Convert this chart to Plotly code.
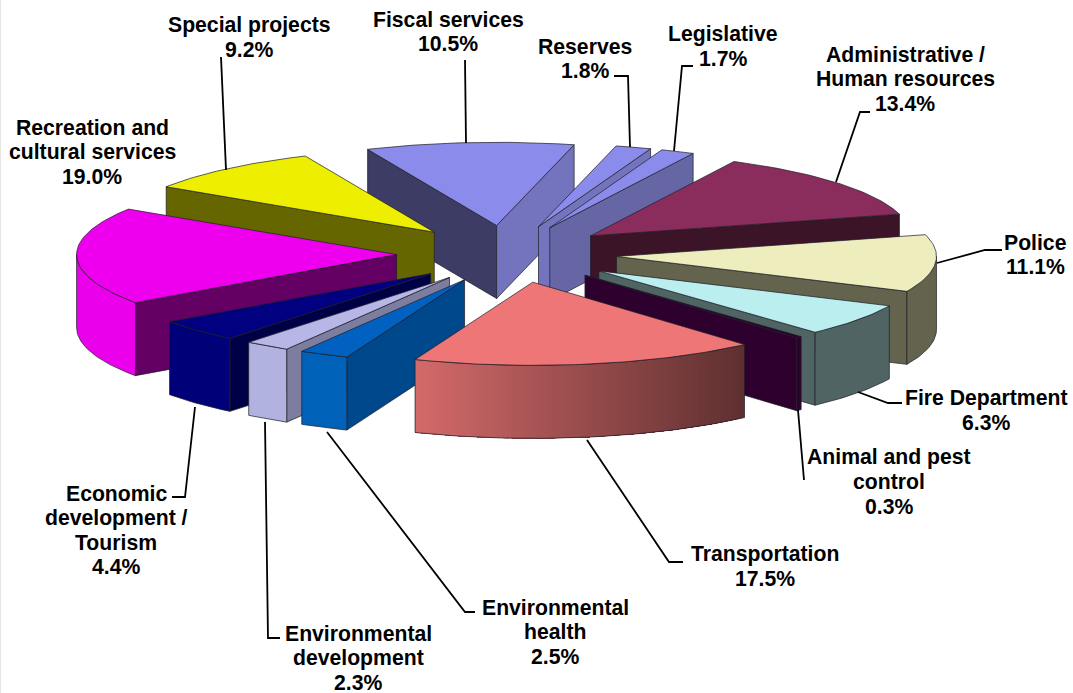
import math
import plotly.graph_objects as go

# ---- data (clockwise from the start angle) ----
categories = ["Legislative", "Administrative / Human resources", "Police", "Fire Department",
              "Animal and pest control", "Transportation", "Environmental health",
              "Environmental development", "Economic development / Tourism",
              "Recreation and cultural services", "Special projects", "Fiscal services", "Reserves"]
values = [1.7, 13.4, 11.1, 6.3, 0.3, 17.5, 2.5, 2.3, 4.4, 19.0, 9.2, 10.5, 1.8]

label_lines = [["Legislative"], ["Administrative /", "Human resources"], ["Police"], ["Fire Department"],
               ["Animal and pest", "control"], ["Transportation"], ["Environmental", "health"],
               ["Environmental", "development"], ["Economic", "development /", "Tourism"],
               ["Recreation and", "cultural services"], ["Special projects"], ["Fiscal services"], ["Reserves"]]

# ---- styles ----
top_colors = ["#8b8bec", "#8a2c5c", "#edEDBE", "#bbeeee", "#2d002d", "#ee7676", "#0061c1",
              "#b7b7e7", "#000080", "#ee00ee", "#eeee00", "#8b8bec", "#8b8bec"]
face_start = ["#66669f", "#3c1428", "#64644e", "#506464", "#2d002d", "#5f3030", "#00488c",
              "#7d7da0", "#000046", "#640064", "#666600", "#3c3c64", "#7474be"]
face_end = ["#6666a5", "#3c1428", "#64644e", "#506464", "#2d002d", "#5f3030", "#00488c",
            "#7d7da0", "#000046", "#640064", "#666600", "#7474be", "#7474be"]
wall_from = ["#6666a5", "#3c1428", "#64644e", "#506464", "#2d002d", (95, 48, 48), "#0061b9",
             "#b2b2e1", "#000078", "#eb00eb", "#666600", "#7474be", "#7474be"]
wall_to = [None, None, None, None, None, (212, 106, 106), None, None, None, None, None, None, None]

# ---- layout of labels and leader lines (pixels) ----
label_pos = [(723, 34), (905, 54), (1035, 242), (986, 398), (889, 457), (765, 554), (555, 607),
             (358, 633), (116, 493), (92, 127), (249, 25), (448, 19), (585, 46)]
leaders = [[(693, 66), (682, 66), (674, 151)],
           [(870, 112), (860, 112), (836, 182)],
           [(1002, 250), (985, 250), (937, 263)],
           [(902, 403), (888, 403), (858, 392)],
           [(798, 410), (804, 480)],
           [(683, 562), (669, 562), (587, 440)],
           [(475, 612), (465, 612), (327, 432)],
           [(280, 638), (268, 638), (265, 422)],
           [(172, 497), (185, 497), (195, 407)],
           [],
           [(221, 57), (226, 170)],
           [(465, 60), (466, 143)],
           [(614, 76), (628, 76), (630, 147)]]

CX, CY, A, RATIO, EXPLODE, DEPTH, START = 509, 254, 320, 0.26, 110, 73, 20.5
B = A * RATIO
EDGE = "rgba(30,30,40,0.8)"


def polar(cx, cy, a, deg):
    r = math.radians(deg)
    return cx + a * math.sin(r), cy - a * RATIO * math.cos(r)


def apex(mid):
    # slice origin after explosion; small correction imitates the reference's perspective
    x, y = polar(CX, CY, EXPLODE, mid)
    c = math.cos(math.radians(mid))
    return x - 2.5 + 3.5 * c * c - 4 * c, y


fig = go.Figure()


def poly(pts, color, edge=True):
    xs = [p[0] for p in pts] + [pts[0][0]]
    ys = [p[1] for p in pts] + [pts[0][1]]
    fig.add_trace(go.Scatter(x=xs, y=ys, mode="lines", fill="toself", fillcolor=color,
                             line=dict(color=EDGE if edge else color, width=0.9 if edge else 0),
                             hoverinfo="skip", showlegend=False))


def rgb(c):
    return "rgb(%d,%d,%d)" % tuple(int(round(v)) for v in c)


def arc(ax, ay, a0, a1, per_deg=1):
    n = max(2, int(abs(a1 - a0) * per_deg) + 1)
    return [polar(ax, ay, A, a0 + (a1 - a0) * i / (n - 1)) for i in range(n)]


cum = 0
slices = []
for i, v in enumerate(values):
    a0 = START + cum * 3.6
    a1 = START + (cum + v) * 3.6
    cum += v
    slices.append((i, a0, a1, (a0 + a1) / 2))

for i, a0, a1, mid in sorted(slices, key=lambda s: -math.cos(math.radians(s[3]))):
    ax, ay = apex(mid)
    # radial faces
    if math.sin(math.radians(a0)) < 0:
        p = polar(ax, ay, A, a0)
        poly([(ax, ay), p, (p[0], p[1] + DEPTH), (ax, ay + DEPTH)], face_start[i])
    if math.sin(math.radians(a1)) > 0:
        p = polar(ax, ay, A, a1)
        poly([(ax, ay), p, (p[0], p[1] + DEPTH), (ax, ay + DEPTH)], face_end[i])
    # outer wall
    w0, w1 = max(a0, 90), min(a1, 270)
    if w1 > w0:
        if wall_to[i] is None:
            pts = arc(ax, ay, w0, w1)
            poly(pts + [(x, y + DEPTH) for x, y in reversed(pts)], wall_from[i])
        else:
            pts = arc(ax, ay, w0, w1, per_deg=2)
            lo, hi = wall_from[i], wall_to[i]
            xmin = min(p[0] for p in pts)
            xmax = max(p[0] for p in pts)
            # painted from one end with overlap, so that no seams show
            for j in range(len(pts) - 1):
                p = pts[j]
                rest = pts[j:]
                t = (p[0] - xmin) / (xmax - xmin)
                col = rgb(tuple(hi[k] + (lo[k] - hi[k]) * t for k in range(3)))
                poly(rest + [(x, y + DEPTH) for x, y in reversed(rest)], col, edge=False)
            xs = [p[0] for p in pts] + [p[0] for p in reversed(pts)] + [pts[0][0]]
            ys = [p[1] for p in pts] + [p[1] + DEPTH for p in reversed(pts)] + [pts[0][1]]
            fig.add_trace(go.Scatter(x=xs, y=ys, mode="lines", line=dict(color=EDGE, width=0.9),
                                     hoverinfo="skip", showlegend=False))
    # top
    poly([(ax, ay)] + arc(ax, ay, a0, a1), top_colors[i])

for pts in leaders:
    if pts:
        fig.add_trace(go.Scatter(x=[p[0] for p in pts], y=[p[1] for p in pts], mode="lines",
                                 line=dict(color="black", width=1.8), hoverinfo="skip", showlegend=False))

FONT = dict(family="Liberation Sans", size=21.2, color="black")
for i, lines in enumerate(label_lines):
    cx, y = label_pos[i]
    for k, text in enumerate(lines + [f"{values[i]:.1f}%"]):
        fig.add_annotation(x=cx, y=y + k * 24.5, text=f"<b>{text}</b>", showarrow=False,
                           xanchor="center", yanchor="middle", font=FONT)

fig.add_shape(type="line", x0=0.5, x1=0.5, y0=0, y1=693, line=dict(color="#e6e6e6", width=1))

fig.update_layout(width=1073, height=693, margin=dict(l=0, r=0, t=0, b=0),
                  paper_bgcolor="white", plot_bgcolor="white", showlegend=False,
                  xaxis=dict(range=[0, 1073], visible=False, fixedrange=True),
                  yaxis=dict(range=[693, 0], visible=False, fixedrange=True))
fig.write_html("out.html", config=dict(displayModeBar=False),
               post_script="document.body.style.margin='0';document.body.style.overflow='hidden';")
